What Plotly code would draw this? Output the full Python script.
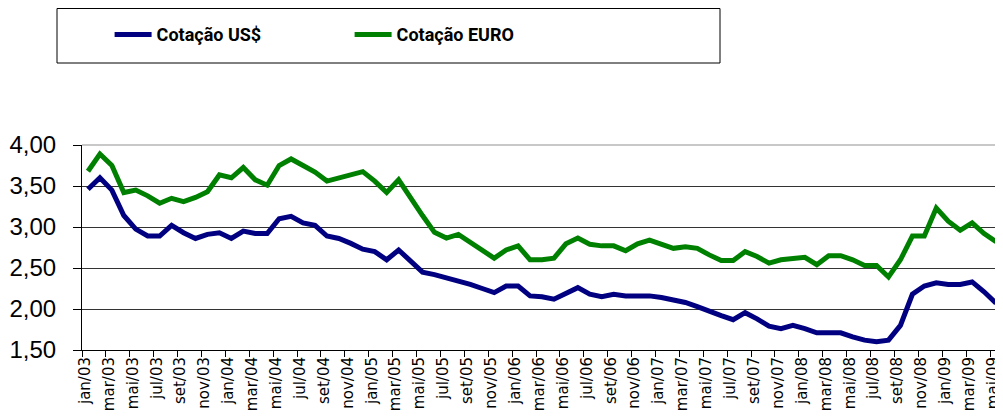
import plotly.graph_objects as go

months = ["jan", "fev", "mar", "abr", "mai", "jun", "jul", "ago", "set", "out", "nov", "dez"]
years = ["03", "04", "05", "06", "07", "08", "09"]
categories = [f"{m}/{y}" for y in years for m in months][:77]

cotacao_usd = [
    3.46, 3.60, 3.45, 3.14, 2.975, 2.89, 2.89, 3.02, 2.93, 2.86, 2.91, 2.93,
    2.86, 2.95, 2.92, 2.92, 3.10, 3.13, 3.05, 3.02, 2.89, 2.86, 2.80, 2.73,
    2.70, 2.60, 2.72, 2.59, 2.45, 2.42, 2.385, 2.35, 2.30, 2.25, 2.20, 2.28,
    2.28, 2.16, 2.15, 2.12, 2.19, 2.26, 2.18, 2.15, 2.18, 2.16, 2.16, 2.16,
    2.14, 2.11, 2.08, 2.03, 1.97, 1.92, 1.87, 1.955, 1.88, 1.79, 1.76, 1.80,
    1.76, 1.71, 1.71, 1.71, 1.66, 1.62, 1.60, 1.62, 1.80, 2.18, 2.28, 2.32,
    2.30, 2.30, 2.33, 2.21, 2.07,
]
cotacao_euro = [
    3.68, 3.89, 3.75, 3.42, 3.45, 3.38, 3.29, 3.35, 3.31, 3.36, 3.43, 3.635,
    3.60, 3.725, 3.575, 3.51, 3.75, 3.83, 3.75, 3.67, 3.56, 3.60, 3.65, 3.675,
    3.56, 3.42, 3.575, 3.35, 3.14, 2.935, 2.865, 2.91, 2.81, 2.71, 2.62, 2.72,
    2.77, 2.60, 2.60, 2.62, 2.795, 2.865, 2.79, 2.77, 2.77, 2.71, 2.795, 2.84,
    2.79, 2.74, 2.76, 2.74, 2.66, 2.59, 2.59, 2.70, 2.64, 2.56, 2.60, 2.61,
    2.63, 2.54, 2.65, 2.65, 2.60, 2.53, 2.53, 2.39, 2.60, 2.89, 2.89, 3.23,
    3.07, 2.96, 3.05, 2.92, 2.82,
]
series_names = ["Cotação US$", "Cotação EURO"]
y_ticks = [1.5, 2.0, 2.5, 3.0, 3.5, 4.0]

# The page body has an 8px default margin; the figure is sized so it ends at the window edge.
ML, MT, PW, PH = 74, 137, 920, 205
PLOT_BOTTOM = MT + PH  # in figure pixels

fig = go.Figure()
fig.add_trace(go.Scatter(x=categories, y=cotacao_usd, mode="lines", name=series_names[0],
                         line=dict(color="#000080", width=5)))
fig.add_trace(go.Scatter(x=categories, y=cotacao_euro, mode="lines", name=series_names[1],
                         line=dict(color="#008000", width=5)))

legend_font = dict(family="Roboto, Liberation Sans, sans-serif", size=18, color="#000000")

fig.update_layout(
    width=995, height=411,
    margin=dict(l=ML, r=1, t=MT, b=69),
    paper_bgcolor="white", plot_bgcolor="white",
    separators=", ",
    showlegend=True,
    legend=dict(orientation="h", x=0.03, xanchor="left", y=1.538, yanchor="middle",
                font=dict(**legend_font, weight="bold"), bgcolor="rgba(0,0,0,0)",
                entrywidth=188, entrywidthmode="pixels", itemwidth=37),
    xaxis=dict(type="category", categoryorder="array", categoryarray=categories,
               tickmode="linear", tick0=0, dtick=2, tickson="boundaries",
               showgrid=False, showline=True, linecolor="#000000", linewidth=1,
               ticks="outside", ticklen=6, tickcolor="#000000", tickangle=-90,
               ticklabelshift=-3,
               tickfont=dict(family="DejaVu Sans, Verdana, sans-serif", size=15, color="#000000"),
               range=[-0.5, len(categories) - 0.5], zeroline=False, automargin=False),
    yaxis=dict(range=[1.5, 4.0], tickvals=y_ticks, tickformat=".2f",
               showgrid=True, gridcolor="#333333", gridwidth=1,
               showline=True, linecolor="#000000", linewidth=1,
               ticks="outside", ticklen=8, tickcolor="#000000", ticklabelstandoff=12,
               tickfont=dict(family="Liberation Sans, Arial, sans-serif", size=24, color="#000000"),
               zeroline=False, automargin=False),
    shapes=[
        dict(type="path", xref="paper", yref="paper", path="M0,1 L1,1 L1,0",
             line=dict(color="#c8c8c8", width=2), layer="above"),
        dict(type="rect", xref="paper", yref="paper",
             x0=-25 / PW, x1=638 / PW,
             y0=(PLOT_BOTTOM - 55) / PH, y1=(PLOT_BOTTOM - 0.5) / PH,
             line=dict(color="#000000", width=1), fillcolor="rgba(0,0,0,0)", layer="above"),
    ],
)

fig.write_html("out.html")
